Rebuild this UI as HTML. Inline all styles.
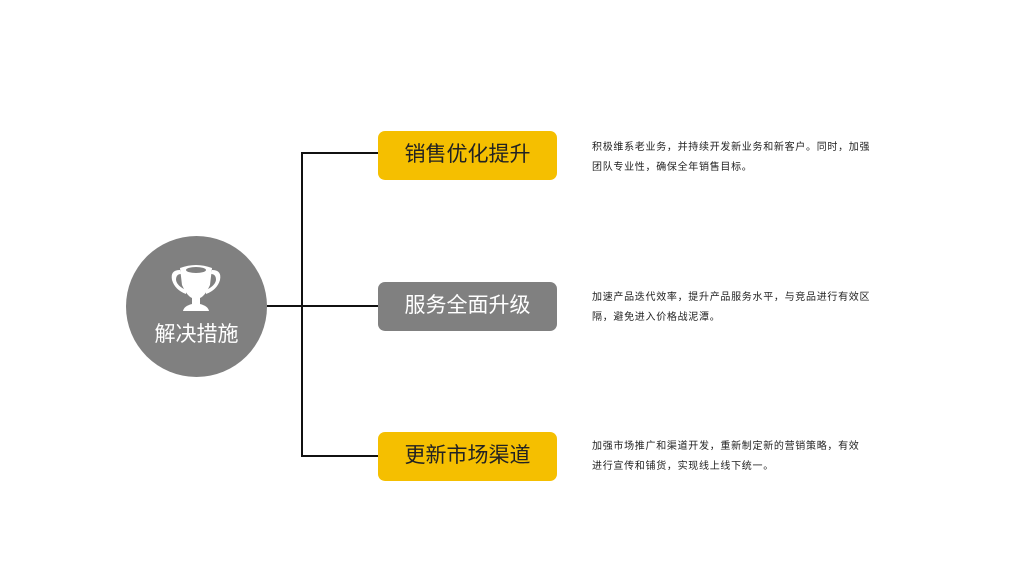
<!DOCTYPE html>
<html><head><meta charset="utf-8"><style>
body{margin:0;width:1024px;height:576px;background:#fff;position:relative;overflow:hidden;font-family:"Liberation Sans","Noto Sans CJK SC",sans-serif}
.a{position:absolute}
.box{position:absolute;left:378px;width:179px;height:49px;border-radius:7px;text-align:center;line-height:48px;font-size:21px}
.y{background:#f5bf00;color:#222}
.g{background:#808080;color:#fff}
.t{position:absolute;left:592px;font-size:10px;line-height:20px;color:#222;width:300px;letter-spacing:0.7px}
</style></head><body>
<div class="a" style="left:126px;top:236px;width:141px;height:141px;border-radius:50%;background:#808080"></div>
<svg class="a" style="left:0;top:0" width="1024" height="576">
<g stroke="#111" stroke-width="2" fill="none">
<line x1="267" y1="306" x2="378" y2="306"/>
<line x1="302" y1="153" x2="302" y2="456"/>
<line x1="301" y1="153" x2="378" y2="153"/>
<line x1="301" y1="456" x2="378" y2="456"/>
</g>
<g fill="#fff">
<path d="M180 268 Q196 262 212 268 L210 285 Q205 296 200 298 L200 304 Q208 306 209 311 L183 311 Q184 306 192 304 L192 298 Q187 296 182 285 Z"/>
<path d="M180 270 Q170 270 172 280 Q175 290 186 294 L186 290 Q177 286 176 280 Q176 274 181 274 Z"/>
<path d="M212 270 Q222 270 220 280 Q217 290 206 294 L206 290 Q215 286 216 280 Q216 274 211 274 Z"/>
</g>
<ellipse cx="196" cy="270" rx="10" ry="3" fill="#808080"/>
</svg>
<div class="a" style="left:126px;top:318px;width:141px;text-align:center;color:#fff;font-size:21px">解决措施</div>
<div class="box y" style="top:131px">销售优化提升</div>
<div class="box g" style="top:282px">服务全面升级</div>
<div class="box y" style="top:432px">更新市场渠道</div>
<div class="t" style="top:138px">积极维系老业务，并持续开发新业务和新客户。同时，加强<br>团队专业性，确保全年销售目标。</div>
<div class="t" style="top:288px">加速产品迭代效率，提升产品服务水平，与竞品进行有效区<br>隔，避免进入价格战泥潭。</div>
<div class="t" style="top:437px">加强市场推广和渠道开发，重新制定新的营销策略，有效<br>进行宣传和铺货，实现线上线下统一。</div>
</body></html>
